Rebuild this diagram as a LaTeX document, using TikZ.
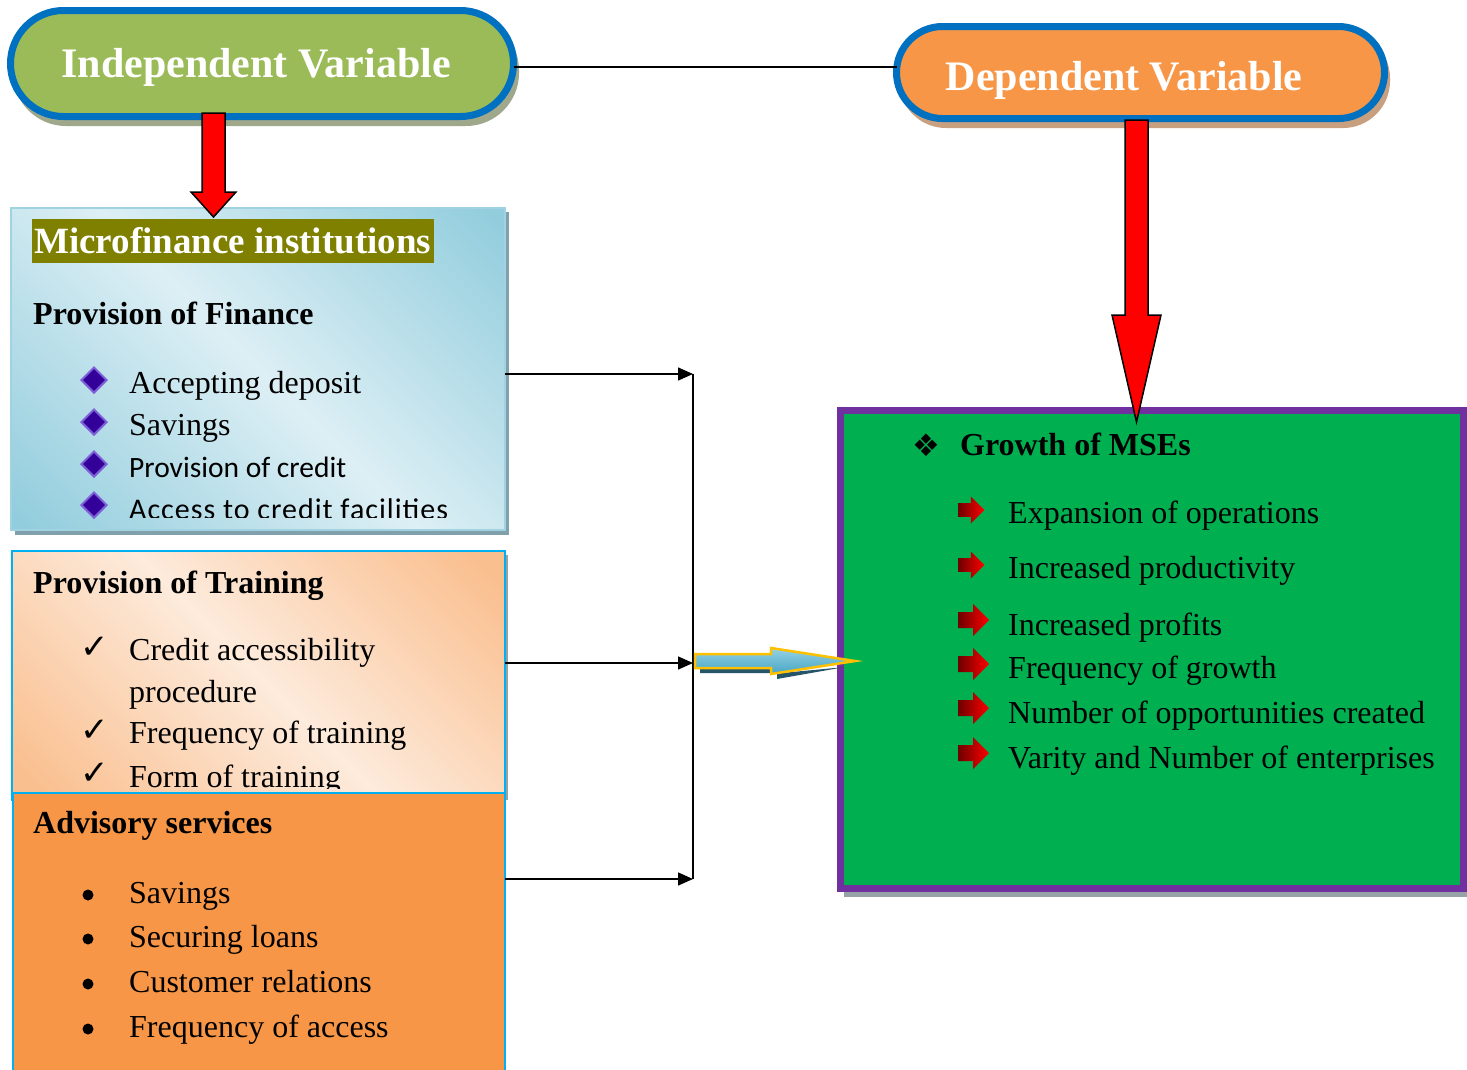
\documentclass[tikz,border=0pt]{standalone}
\usepackage{fontspec}
\setmainfont{Liberation Serif}
\newfontfamily\calfont{Carlito}
\newfontfamily\calspaced[LetterSpace=3.3]{Carlito}
\newfontfamily\symfont{DejaVu Sans}
\usetikzlibrary{arrows.meta,calc,shapes.geometric}
\definecolor{ivgreen}{RGB}{155,187,89}
\definecolor{pillblue}{RGB}{0,112,192}
\definecolor{dvorange}{RGB}{247,150,70}
\definecolor{mfiolive}{RGB}{128,128,0}
\definecolor{bluedark}{RGB}{146,205,221}
\definecolor{bluelight}{RGB}{221,239,245}
\definecolor{blueedge}{RGB}{160,210,225}
\definecolor{blueshadow}{RGB}{128,160,172}
\definecolor{peachdark}{RGB}{250,191,143}
\definecolor{peachlight}{RGB}{253,235,220}
\definecolor{cyanb}{RGB}{0,176,240}
\definecolor{msegreen}{RGB}{0,176,80}
\definecolor{purpleb}{RGB}{112,48,160}
\definecolor{diamdark}{RGB}{51,0,153}
\definecolor{diamlight}{RGB}{125,95,215}
\definecolor{goldb}{RGB}{255,192,0}
\definecolor{arrblue1}{RGB}{70,165,195}
\definecolor{arrblue2}{RGB}{150,210,230}
\definecolor{tealshadow}{RGB}{38,85,105}
\definecolor{ivshadow}{RGB}{160,168,140}
\definecolor{dvshadow}{RGB}{200,160,128}
\definecolor{grayshadow}{RGB}{150,162,168}
\definecolor{arrdark}{RGB}{110,0,0}
\pgfdeclarehorizontalshading{bluegrad}{100bp}{color(0bp)=(bluedark); color(16bp)=(bluedark); color(50bp)=(bluelight); color(84bp)=(bluedark); color(100bp)=(bluedark)}
\pgfdeclarehorizontalshading{peachgrad}{100bp}{color(0bp)=(peachdark); color(18bp)=(peachdark); color(50bp)=(peachlight); color(82bp)=(peachdark); color(100bp)=(peachdark)}
\newcommand\mseArrow[3]{%
  \begin{scope}[shift={(#1,#2)},scale=#3]
    \shade[left color=arrdark,right color=red] (0,-8) -- (15,-8) -- (15,-16) -- (31,0) -- (15,16) -- (15,8) -- (0,8) -- cycle;
  \end{scope}}
\begin{document}
\begin{tikzpicture}[x=1pt,y=-1pt,
  txt/.style={anchor=base west,inner sep=0pt,font=\fontsize{32}{38}\selectfont},
  btxt/.style={txt,font=\fontsize{32}{38}\selectfont\bfseries},
  head/.style={anchor=base,inner sep=0pt,text=white,font=\fontsize{42}{48}\selectfont\bfseries},
  pill/.style={draw=pillblue,line width=7pt,rounded corners=#1,inner sep=0pt,outer sep=0pt},
  dia/.style={diamond,fill=diamdark,draw=diamlight,line width=2pt,minimum width=26pt,minimum height=26pt,inner sep=0pt},
  chk/.style={anchor=base west,inner sep=0pt,font=\symfont\fontsize{34}{38}\selectfont},
  dot/.style={circle,fill=black,minimum size=11pt,inner sep=0pt},
  conn/.style={line width=1.5pt},
  connarrow/.style={conn,-{Triangle[length=15pt,width=13pt]}},
  redarrow/.style={fill=red,draw=black,line width=1.5pt,line join=miter}
]
\useasboundingbox (0,0) rectangle (1467,1069);
\fill[white] (0,0) rectangle (1467,1069);

% ---------- pills ----------
\fill[ivshadow,rounded corners=53pt] (13,17) rectangle (519,126);
\fill[dvshadow,rounded corners=47pt] (899,31) rectangle (1390,128);
\node[pill=53pt,fill=ivgreen,minimum width=503pt,minimum height=106pt] (iv) at (262,63.5) {};
\node[pill=46pt,fill=dvorange,minimum width=488pt,minimum height=92pt] (dv) at (1140.5,72.5) {};
\node[head] (ivtext) at (256,77) {Independent Variable};
\node[head] (dvtext) at (1124,90) {Dependent Variable};
\draw[conn] (iv.east |- 0,67) -- (dv.west |- 0,67);

% ---------- Microfinance box ----------
\fill[blueshadow] (15,212) rectangle (509,535);
\node[draw=blueedge,line width=1.5pt,shading=bluegrad,shading angle=45,minimum width=494pt,minimum height=322pt,anchor=north west,inner sep=0pt,outer sep=0pt] (fin) at (11,208) {};
\node[fill=mfiolive,minimum width=402pt,minimum height=44pt,anchor=north west,inner sep=0pt] (mfi) at (32,219) {};
\node[head,anchor=base west,font=\fontsize{37}{42}\selectfont\bfseries] (mfitext) at (34,253) {Microfinance institutions};
\node[btxt] (pof) at (33,324) {Provision of Finance};
\node[dia] (d1) at (94,380) {};
\node[dia] (d2) at (94,422) {};
\node[dia] (d3) at (94,464) {};
\node[dia] (d4) at (94,505) {};
\begin{scope}
  \clip (11,208) rectangle (505,517);
  \node[txt] (f1) at (129,393) {Accepting deposit};
  \node[txt] (f2) at (129,435) {Savings};
  \node[txt,font=\calfont\fontsize{29.5}{34}\selectfont] (f3) at (129,477) {Provision of credit};
  \node[txt,font=\calspaced\fontsize{30}{34}\selectfont] (f4) at (129,519) {Access to credit facilities};
\end{scope}

% ---------- Training box ----------
\fill[grayshadow] (15,555) rectangle (508,800);
\node[draw=cyanb,line width=2.5pt,shading=peachgrad,shading angle=45,minimum width=493pt,minimum height=249pt,anchor=north west,inner sep=0pt,outer sep=0pt] (trn) at (12,551) {};
\node[btxt] (pot) at (33,593) {Provision of Training};
\begin{scope}
  \clip (12,551) rectangle (505,788);
  \node[chk] (c1) at (80,658) {✓};
  \node[chk] (c2) at (80,741) {✓};
  \node[chk] (c3) at (80,784) {✓};
  \node[txt] (t1) at (129,660) {Credit accessibility};
  \node[txt] (t2) at (129,702) {procedure};
  \node[txt] (t3) at (129,743) {Frequency of training};
  \node[txt] (t4) at (129,787) {Form of training};
\end{scope}

% ---------- Advisory box ----------
\node[draw=cyanb,line width=2.5pt,fill=dvorange,minimum width=492pt,minimum height=290pt,anchor=north west,inner sep=0pt,outer sep=0pt] (adv) at (13,793) {};
\node[btxt] (advt) at (33,833) {Advisory services};
\node[dot] (b1) at (88,895) {};
\node[dot] (b2) at (88,939) {};
\node[dot] (b3) at (88,984) {};
\node[dot] (b4) at (88,1029) {};
\node[txt] (a1) at (129,903) {Savings};
\node[txt] (a2) at (129,947) {Securing loans};
\node[txt] (a3) at (129,992) {Customer relations};
\node[txt] (a4) at (129,1037) {Frequency of access};

% ---------- red block arrows ----------
\coordinate (ivA) at (213.5,113);
\coordinate (finA) at (213.5,217);
\draw[redarrow] ($(ivA)+(-11.5,0)$) -- ($(ivA)+(11.5,0)$) -- ($(finA)+(11.5,-25)$) -- ($(finA)+(22.5,-25)$) -- (finA) -- ($(finA)+(-22.5,-25)$) -- ($(finA)+(-11.5,-25)$) -- cycle;

% ---------- Growth box ----------
\fill[grayshadow] (844,880) rectangle (1467,897);
\node[draw=purpleb,line width=7pt,fill=msegreen,minimum width=623pt,minimum height=478pt,anchor=north west,inner sep=0pt,outer sep=0pt] (mse) at (840.5,410.5) {};
\coordinate (dvA) at (1136.5,120);
\coordinate (mseA) at (1136.5,422);
\draw[redarrow] ($(dvA)+(-11.5,0)$) -- ($(dvA)+(11.5,0)$) -- ($(mseA)+(11.5,-107)$) -- ($(mseA)+(24.5,-107)$) -- (mseA) -- ($(mseA)+(-24.5,-107)$) -- ($(mseA)+(-11.5,-107)$) -- cycle;
\node[anchor=center,inner sep=0pt,font=\symfont\fontsize{31}{34}\selectfont] (star) at (926,445) {❖};
\node[btxt] (gro) at (960,455) {Growth of MSEs};
\mseArrow{958}{510}{0.85}
\mseArrow{958}{565}{0.85}
\mseArrow{958}{620}{1}
\mseArrow{958}{664}{1}
\mseArrow{958}{708}{1}
\mseArrow{958}{753}{1}
\node[txt] (g1) at (1008,523) {Expansion of operations};
\node[txt] (g2) at (1008,578) {Increased productivity};
\node[txt] (g3) at (1008,635) {Increased profits};
\node[txt] (g4) at (1008,678) {Frequency of growth};
\node[txt] (g5) at (1008,723) {Number of opportunities created};
\node[txt] (g6) at (1008,768) {Varity and Number of enterprises};

% ---------- connectors ----------
\coordinate (j1) at (693,374);
\coordinate (j2) at (693,663);
\coordinate (j3) at (693,879);
\draw[connarrow] (fin.east |- j1) -- (j1);
\draw[connarrow] (trn.east |- j2) -- (j2);
\draw[connarrow] (adv.east |- j3) -- (j3);
\draw[conn] (j1) -- (j3);

% ---------- blue block arrow ----------
\coordinate (ba) at (695,661);
\coordinate (bt) at (855,661);
\fill[tealshadow] ($(ba)+(5,7)$) -- ($(ba)+(5,12)$) -- ($(bt)+(-78,12)$) -- ($(bt)+(-78,18)$) -- ($(bt)+(-10,6)$) -- ($(bt)+(-84,13)$) -- ($(bt)+(-84,7)$) -- cycle;
\shade[top color=arrblue2,bottom color=arrblue1,draw=goldb,line width=2.5pt,line join=miter]
  ($(ba)+(0,-7)$) -- ($(bt)+(-84,-7)$) -- ($(bt)+(-84,-13)$) -- (bt) -- ($(bt)+(-84,13)$) -- ($(bt)+(-84,7)$) -- ($(ba)+(0,7)$) -- cycle;
\end{tikzpicture}
\end{document}
